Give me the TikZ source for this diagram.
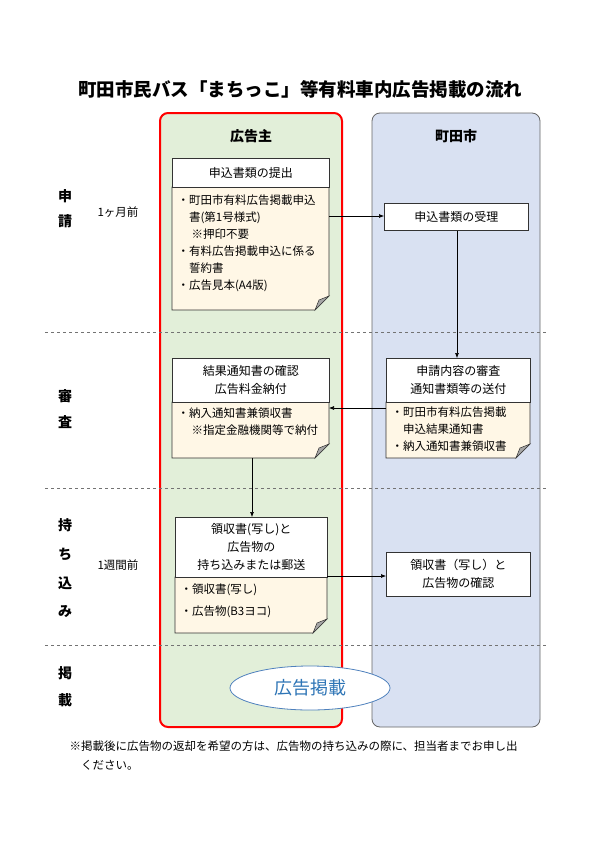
\documentclass[tikz,border=0pt]{standalone}
\usepackage{fontspec}
\setmainfont{Noto Sans CJK JP}
\usetikzlibrary{shapes.geometric,arrows.meta}
\definecolor{gfill}{HTML}{E2EFD9}
\definecolor{bfill}{HTML}{D9E1F2}
\definecolor{cream}{HTML}{FFF7E6}
\definecolor{elb}{HTML}{4F81BD}
\definecolor{txtb}{HTML}{2E75B6}
\tikzset{x=1pt,y=-1pt,
 hd/.style={draw=black!80,fill=white,line width=0.6pt,align=center,font=\fontsize{12}{18}\selectfont},
 arr/.style={-{Latex[length=5pt,width=4pt]},line width=0.6pt},
 lbl/.style={font=\fontsize{14}{14}\selectfont\bfseries},
 small/.style={font=\fontsize{11.5}{11.5}\selectfont},
 body/.style={font=\fontsize{11.5}{17}\selectfont,align=left,anchor=north west}}
\newcommand{\docbox}[4]{% x1 y1 x2 y2
 \fill[cream] (#1,#2) -- (#3,#2) -- (#3,#4-14) -- (#3-14,#4) -- (#1,#4) -- cycle;
 \draw[black!80,line width=0.6pt] (#1,#2) -- (#3,#2) -- (#3,#4-14) -- (#3-14,#4) -- (#1,#4) -- cycle;
 \filldraw[fill=black!35,draw=black!80,line width=0.5pt] (#3,#4-14) -- (#3-14,#4) -- (#3-10,#4-10) -- cycle;}
\begin{document}
\begin{tikzpicture}
\useasboundingbox (0,0) rectangle (600,849);
\fill[white] (0,0) rectangle (600,849);
\node[font=\fontsize{18.5}{18.5}\selectfont\bfseries] (title) at (300,89) {町田市民バス「まちっこ」等有料車内広告掲載の流れ};
\draw[red,fill=gfill,line width=2pt,rounded corners=8pt] (160,113) rectangle (342,727);
\draw[black!60,fill=bfill,line width=0.8pt,rounded corners=8pt] (372,113) rectangle (540,727);
\node[lbl] (h1) at (251,136) {広告主};
\node[lbl] (h2) at (456,136) {町田市};
\foreach \yy in {332,488,645} \draw[black!55,dashed,line width=0.6pt] (45,\yy) -- (548,\yy);
\node[lbl] (s1) at (65,196) {申};\node[lbl] (s2) at (65,221) {請};
\node[lbl] (k1) at (65,396) {審};\node[lbl] (k2) at (65,422) {査};
\node[lbl] (m1) at (65,525) {持};\node[lbl] (m2) at (65,554) {ち};\node[lbl] (m3) at (65,583) {込};\node[lbl] (m4) at (65,612) {み};
\node[lbl] (p1) at (65,673) {掲};\node[lbl] (p2) at (65,700) {載};
\node[small] (t1) at (118,212) {1ヶ月前};
\node[small] (t2) at (118,565) {1週間前};
% left 1
\docbox{172}{187}{329}{310}
\node[hd,minimum width=157pt,minimum height=29pt,anchor=north west] (L1) at (172,158) {申込書類の提出};
\node[body] (L1b) at (174,191) {・町田市有料広告掲載申込\\\phantom{・}書(第1号様式)\\\phantom{・}\ ※押印不要\\・有料広告掲載申込に係る\\\phantom{・}誓約書\\・広告見本(A4版)};
\node[hd,minimum width=144pt,minimum height=27pt,anchor=north west] (R1) at (384,203) {申込書類の受理};
\coordinate (a1) at (329,216);
\draw[arr] (a1) -- (R1.west |- a1);
% right 2
\docbox{386}{402}{530}{458}
\node[hd,minimum width=144pt,minimum height=44pt,anchor=north west] (R2) at (386,358) {申請内容の審査\\通知書類等の送付};
\node[body] (R2b) at (388,403) {・町田市有料広告掲載\\\phantom{・}申込結果通知書\\・納入通知書兼領収書};
\draw[arr] (R1.south -| 457,0) -- (457,358);
% left 2
\docbox{172}{402}{329}{458}
\node[hd,minimum width=157pt,minimum height=44pt,anchor=north west] (L2) at (172,358) {結果通知書の確認\\広告料金納付};
\node[body] (L2b) at (174,404) {・納入通知書兼領収書\\\phantom{・}\ ※指定金融機関等で納付};
\coordinate (a2) at (386,408);
\draw[arr] (a2) -- (329,408);
% left 3
\docbox{175}{577}{327}{633}
\node[hd,minimum width=152pt,minimum height=60pt,anchor=north west] (L3) at (175,517) {領収書(写し)と\\広告物の\\持ち込みまたは郵送};
\node[body,font=\fontsize{11.5}{22}\selectfont] (L3b) at (177,580) {・領収書(写し)\\・広告物(B3ヨコ)};
\coordinate (a3) at (252,458);
\draw[arr] (a3) -- (L3.north -| a3);
\node[hd,minimum width=144pt,minimum height=44pt,anchor=north west] (R3) at (386,552) {領収書（写し）と\\広告物の確認};
\coordinate (a4) at (327,576);
\draw[arr] (a4) -- (R3.west |- a4);
\node[ellipse,draw=elb,fill=white,line width=0.8pt,minimum width=160pt,minimum height=44pt,text=txtb,font=\fontsize{18}{18}\selectfont] (E) at (310,688) {広告掲載};
\node[font=\fontsize{11.5}{19}\selectfont,align=left,anchor=north west] (note) at (66,737) {※掲載後に広告物の返却を希望の方は、広告物の持ち込みの際に、担当者までお申し出\\\phantom{※}ください。};
\end{tikzpicture}
\end{document}
